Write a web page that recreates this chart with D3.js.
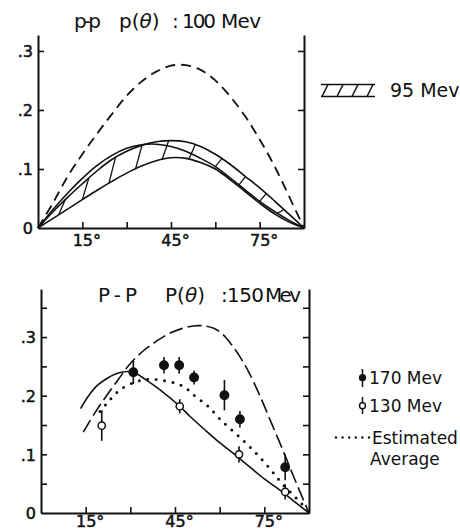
<!DOCTYPE html>
<html>
<head>
<meta charset="utf-8">
<script src="https://cdn.jsdelivr.net/npm/d3@7"></script>
<style>
  body { margin: 0; background: #fff; }
  svg { display: block; font-family: 'DejaVu Sans', sans-serif; }
</style>
</head>
<body>
<div id="chart"></div>
<script>
// --- top panel: p-p p(θ) 100 Mev ---
const topDashed = [[0, 0], [5, 0.042], [10, 0.087], [15, 0.125], [20, 0.16], [25, 0.193], [30, 0.224], [35, 0.248], [40, 0.265], [45, 0.275], [50, 0.276], [55, 0.268], [60, 0.25], [65, 0.223], [70, 0.19], [75, 0.15], [80, 0.105], [85, 0.053], [90, 0]]
const topUpper = [[0, 0], [5, 0.027], [10, 0.052], [15, 0.075], [20, 0.097], [25, 0.116], [30, 0.13], [35, 0.14], [40, 0.146], [45, 0.148], [50, 0.146], [55, 0.138], [60, 0.125], [65, 0.108], [70, 0.088], [75, 0.068], [80, 0.046], [85, 0.023], [90, 0]]
const topMiddle = [[0, 0], [5, 0.031], [10, 0.059], [15, 0.084], [20, 0.106], [25, 0.123], [30, 0.135], [35, 0.141], [40, 0.142], [45, 0.138], [50, 0.13], [55, 0.118], [60, 0.104], [65, 0.085], [70, 0.065], [75, 0.045], [80, 0.028], [85, 0.013], [90, 0]]
const topLower = [[0, 0], [5, 0.016], [10, 0.032], [15, 0.048], [20, 0.064], [25, 0.079], [30, 0.093], [35, 0.105], [40, 0.114], [45, 0.119], [50, 0.118], [55, 0.111], [60, 0.1], [65, 0.082], [70, 0.062], [75, 0.042], [80, 0.024], [85, 0.01], [90, 0]]
const hatchAngles = [7, 15, 24, 33, 42, 51, 60, 68, 75, 81]
const topYTicks = [0, 0.1, 0.2, 0.3]
const xTicks = [15, 30, 45, 60, 75]
const xTickLabels = { 15: '15°', 45: '45°', 75: '75°' }

// --- bottom panel: P-P P(θ) 150 Mev ---
const botSolid = [[13.3, 0.178], [16, 0.2], [19, 0.218], [22, 0.229], [25, 0.237], [28, 0.241], [31, 0.24], [35, 0.228], [40, 0.21], [46.6, 0.182], [50, 0.165], [55, 0.142], [60, 0.12], [65, 0.1], [70, 0.079], [75, 0.058], [80, 0.04], [85, 0.02], [90, 0]]
const botDashed = [[14.2, 0.138], [18, 0.17], [22, 0.2], [26, 0.228], [30, 0.255], [34, 0.275], [38.8, 0.293], [43, 0.306], [47, 0.314], [51, 0.319], [55, 0.319], [58, 0.315], [61, 0.305], [64, 0.287], [67, 0.265], [70, 0.238], [73.5, 0.2], [77, 0.158], [81, 0.11], [85, 0.06], [90, 0]]
const botDotted = [[19.8, 0.173], [22.6, 0.19], [26.5, 0.21], [32, 0.224], [36, 0.228], [41, 0.226], [46, 0.22], [49.4, 0.21], [52, 0.198], [55.7, 0.184], [60.7, 0.157], [66.4, 0.131], [71.8, 0.104], [76.8, 0.076], [81, 0.05], [85.8, 0.025], [89, 0.008]]
// [angle, value, error]
const pts170 = [[31, 0.24, 0.02], [41.3, 0.252, 0.014], [46.4, 0.252, 0.014], [51.4, 0.231, 0.012], [61.6, 0.201, 0.026], [66.8, 0.16, 0.014], [82, 0.078, 0.022]]
const pts130 = [[20.4, 0.149, 0.026], [46.6, 0.182, 0.012], [66.5, 0.1, 0.014], [82, 0.036, 0.013]]
const botYTicks = [0, 0.05, 0.1, 0.15, 0.2, 0.25, 0.3, 0.35]

const INK = '#111'
const fmtY = d => d === 0 ? '0' : (Math.round(d * 100) % 10 === 0 ? '.' + Math.round(d * 10) : '')

const svg = d3.select('#chart').append('svg')
  .attr('width', 460)
  .attr('height', 531)

svg.append('rect').attr('width', 460).attr('height', 531).attr('fill', '#fff')

function drawAxes (g, x, y, yTicks, labelPad) {
  const [x0, x1] = x.range()
  const [y0] = y.range()
  const left = g.append('g')
    .attr('transform', `translate(${x0},0)`)
    .call(d3.axisLeft(y).tickValues(yTicks).tickSize(-6).tickSizeOuter(0).tickPadding(5).tickFormat(fmtY))
  const right = g.append('g')
    .attr('transform', `translate(${x1},0)`)
    .call(d3.axisRight(y).tickValues(yTicks.filter(d => d > 0)).tickSize(-6).tickSizeOuter(0).tickFormat(''))
  const bottom = g.append('g')
    .attr('transform', `translate(0,${y0})`)
    .call(d3.axisBottom(x).tickValues(xTicks).tickSize(-6).tickSizeOuter(0).tickPadding(labelPad).tickFormat(d => xTickLabels[d] || ''))
  left.selectAll('.tick').filter(d => d === 0).select('line').remove()
  left.selectAll('text').attr('dy', '0.36em')
  bottom.selectAll('text').attr('dx', 4).attr('dy', '0.72em')
  for (const a of [left, right, bottom]) {
    a.attr('font-family', null).attr('font-size', null)
    a.select('.domain').attr('stroke', INK).attr('stroke-width', 2)
    a.selectAll('.tick line').attr('stroke', INK).attr('stroke-width', 1.6)
    a.selectAll('text')
      .attr('fill', INK)
      .attr('font-size', 16)
      .attr('stroke', INK)
      .attr('stroke-width', 0.5)
  }
}

// ---------- top panel ----------
const xTop = d3.scaleLinear().domain([0, 90]).range([38, 304])
const yTop = d3.scaleLinear().domain([0, 0.327]).range([228, 35])
const gTop = svg.append('g')

const lineTop = d3.line()
  .x(d => xTop(d[0]))
  .y(d => yTop(d[1]))
  .curve(d3.curveCatmullRom.alpha(0.5))

gTop.append('path')
  .attr('d', lineTop(topDashed))
  .attr('fill', 'none')
  .attr('stroke', INK)
  .attr('stroke-width', 1.8)
  .attr('stroke-dasharray', '10 6')

for (const c of [topUpper, topMiddle, topLower]) {
  gTop.append('path')
    .attr('d', lineTop(c))
    .attr('fill', 'none')
    .attr('stroke', INK)
    .attr('stroke-width', 1.6)
}

// hatching of the 95 Mev band
const interp = c => d3.scaleLinear().domain(c.map(d => d[0])).range(c.map(d => d[1]))
const fUpper = interp(topUpper)
const fMiddle = interp(topMiddle)
const fLower = interp(topLower)
gTop.selectAll('.hatch')
  .data(hatchAngles)
  .join('line')
  .attr('class', 'hatch')
  .attr('x1', d => xTop(d))
  .attr('y1', d => yTop(d < 52 ? fLower(d) : fMiddle(d)))
  .attr('x2', d => xTop(d + 2.2))
  .attr('y2', d => yTop(fUpper(d + 2.2)))
  .attr('stroke', INK)
  .attr('stroke-width', 1.3)

drawAxes(gTop, xTop, yTop, topYTicks, 6)

// title pieces; the θ is set in italics
function title (g, y, size, parts) {
  const t = g.append('text')
    .attr('y', y)
    .attr('font-size', size)
    .attr('fill', INK)
  for (const p of parts) {
    if (p.theta) {
      t.append('tspan').attr('x', p.x).text(p.text + '(')
      t.append('tspan').attr('font-style', 'italic').text('θ')
      t.append('tspan').text(')')
      continue
    }
    const s = t.append('tspan').attr('x', p.x).text(p.text)
    if (p.len) s.attr('textLength', p.len).attr('lengthAdjust', 'spacing')
  }
}

title(gTop, 28, 20, [
  { x: 74, text: 'p-p', len: 27 },
  { x: 119, text: 'p', theta: true },
  { x: 172, text: ':' },
  { x: 182, text: '100', len: 34 },
  { x: 221, text: 'Mev', len: 40 }
])

// legend: hatched symbol
const lg = svg.append('g').attr('stroke', INK).attr('stroke-width', 1.5)
lg.append('line').attr('x1', 321).attr('x2', 375).attr('y1', 84.5).attr('y2', 84.5)
lg.append('line').attr('x1', 321).attr('x2', 375).attr('y1', 96.5).attr('y2', 96.5)
lg.selectAll('.s').data([0, 1, 2, 3]).join('line')
  .attr('x1', i => 322 + i * 15)
  .attr('y1', 96.5)
  .attr('x2', i => 328 + i * 15)
  .attr('y2', 84.5)
svg.append('text').attr('x', 390).attr('y', 97).attr('font-size', 19).attr('fill', INK).text('95 Mev')

// ---------- bottom panel ----------
const xBot = d3.scaleLinear().domain([0, 90]).range([41, 309])
const yBot = d3.scaleLinear().domain([0, 0.382]).range([513, 289])
const gBot = svg.append('g')

const lineBot = d3.line()
  .x(d => xBot(d[0]))
  .y(d => yBot(d[1]))
  .curve(d3.curveCatmullRom.alpha(0.5))

gBot.append('path')
  .attr('d', lineBot(botSolid))
  .attr('fill', 'none')
  .attr('stroke', INK)
  .attr('stroke-width', 1.6)

gBot.append('path')
  .attr('d', lineBot(botDashed))
  .attr('fill', 'none')
  .attr('stroke', INK)
  .attr('stroke-width', 1.6)
  .attr('stroke-dasharray', '14 5')

gBot.append('path')
  .attr('d', lineBot(botDotted))
  .attr('fill', 'none')
  .attr('stroke', INK)
  .attr('stroke-width', 3)
  .attr('stroke-linecap', 'round')
  .attr('stroke-dasharray', '0 8.5')

function drawPoints (data, filled) {
  const g = gBot.append('g')
  g.selectAll('line')
    .data(data)
    .join('line')
    .attr('x1', d => xBot(d[0]))
    .attr('x2', d => xBot(d[0]))
    .attr('y1', d => yBot(d[1] - d[2]))
    .attr('y2', d => yBot(d[1] + d[2]))
    .attr('stroke', INK)
    .attr('stroke-width', 1.6)
  g.selectAll('circle')
    .data(data)
    .join('circle')
    .attr('cx', d => xBot(d[0]))
    .attr('cy', d => yBot(d[1]))
    .attr('r', filled ? 4.2 : 3.6)
    .attr('fill', filled ? INK : '#fff')
    .attr('stroke', INK)
    .attr('stroke-width', 1.5)
}
drawPoints(pts170, true)
drawPoints(pts130, false)

drawAxes(gBot, xBot, yBot, botYTicks, 2)

title(gBot, 302, 20, [
  { x: 98, text: 'P-P', len: 39 },
  { x: 165, text: 'P', theta: true },
  { x: 221, text: ':150', len: 43 },
  { x: 265, text: 'Mev', len: 36 }
])

// legend bottom
const lb = svg.append('g').attr('fill', INK).attr('font-size', 17)
lb.append('line').attr('x1', 362.5).attr('x2', 362.5).attr('y1', 369).attr('y2', 387).attr('stroke', INK).attr('stroke-width', 1.5)
lb.append('circle').attr('cx', 362.5).attr('cy', 377.7).attr('r', 3.6).attr('fill', INK)
lb.append('text').attr('x', 369).attr('y', 384).text('170 Mev')
lb.append('line').attr('x1', 362.5).attr('x2', 362.5).attr('y1', 397).attr('y2', 414).attr('stroke', INK).attr('stroke-width', 1.5)
lb.append('circle').attr('cx', 362.5).attr('cy', 405.7).attr('r', 3).attr('fill', '#fff').attr('stroke', INK).attr('stroke-width', 1.4)
lb.append('text').attr('x', 369).attr('y', 412).text('130 Mev')
lb.append('line').attr('x1', 336).attr('x2', 369).attr('y1', 437.5).attr('y2', 437.5)
  .attr('stroke', INK).attr('stroke-width', 2.4).attr('stroke-linecap', 'round').attr('stroke-dasharray', '0 6.6')
lb.append('text').attr('x', 372).attr('y', 444).text('Estimated')
lb.append('text').attr('x', 370).attr('y', 465).text('Average')
</script>
</body>
</html>
